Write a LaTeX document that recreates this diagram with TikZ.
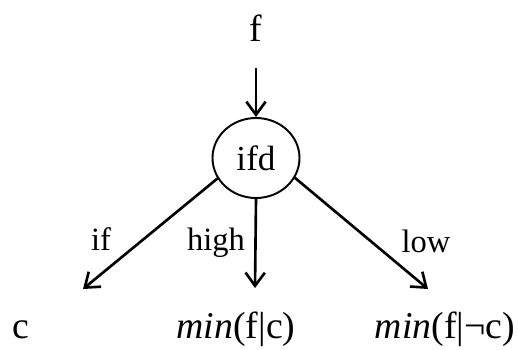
\documentclass[tikz,border=0pt]{standalone}
\usepackage{fontspec}
\setmainfont{Liberation Serif}
\usetikzlibrary{positioning,shapes.geometric,arrows.meta}

\begin{document}
\begin{tikzpicture}[every node/.style={inner sep=0pt, font=\fontsize{21.5}{25}\selectfont},
  edgelabel/.style={font=\fontsize{18.5}{22}\selectfont, anchor=base},
  leaf/.style={anchor=base},
  arr/.style={-{Straight Barb[length=7.5pt,width=11pt]}, line width=1.5pt}]
\useasboundingbox (0,0) rectangle (10.36,6.98);
\node[leaf] (f) at (5.12,6.14) {f};
\node (ifd) [draw, ellipse, line width=1.1pt, minimum width=1.74cm, minimum height=1.6cm, font=\fontsize{20}{24}\selectfont] at (5.12,3.82) {ifd};
\coordinate (ifend) at (1.66,1.20);
\coordinate (highend) at (5.10,1.22);
\coordinate (lowend) at (8.56,1.20);
\node[leaf] (c) at (0.42,0.22) {c};
\node[leaf] (minpos) at (4.72,0.22) {\textit{min}(f|c)};
\node[leaf] (minneg) at (8.9,0.22) {\textit{min}(f|¬c)};
\node[edgelabel] (if) at (2.02,1.98) {if};
\node[edgelabel] (high) at (4.32,1.98) {high};
\node[edgelabel] (low) at (8.52,1.94) {low};
\draw[arr, shorten <=0.52cm] (f.south) -- (ifd);
\draw[arr] (ifd.208) -- (ifend);
\draw[arr] (ifd.south) -- (highend);
\draw[arr] (ifd.-27) -- (lowend);
\end{tikzpicture}
\end{document}
